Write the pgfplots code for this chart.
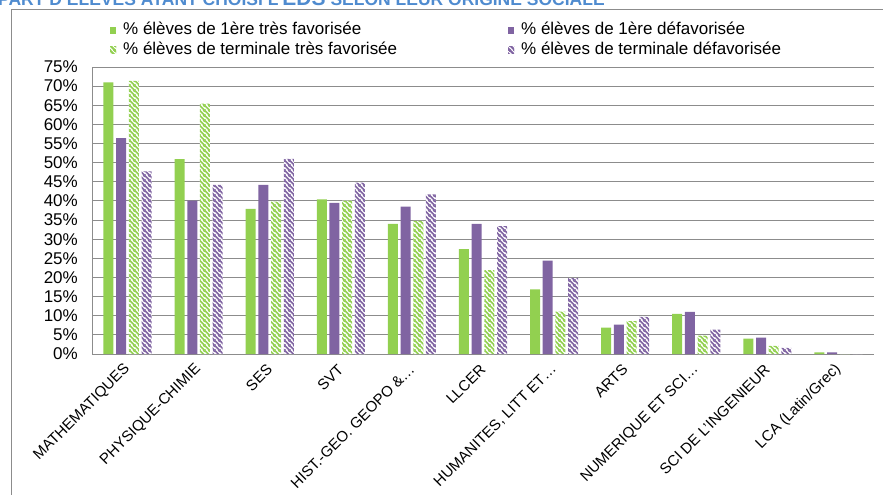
\documentclass[border=0pt]{standalone}
\usepackage{fontspec}
\setmainfont{Liberation Sans}
\usepackage{pgfplots}
\pgfplotsset{compat=1.18}
\usetikzlibrary{patterns.meta}

\definecolor{cgreen}{RGB}{146,208,80}
\definecolor{cpurple}{RGB}{128,100,162}
\definecolor{cgrid}{RGB}{140,140,140}
\definecolor{ctitle}{RGB}{79,139,207}

\tikzdeclarepattern{
  name=stripes,
  type=uncolored,
  bottom left={(0bp,0bp)},
  top right={(5bp,5bp)},
  tile size={(5bp,5bp)},
  code={
    \draw[line width=1.9bp] (-1bp,6bp) -- (6bp,-1bp);
    \draw[line width=1.9bp] (-1bp,1bp) -- (1bp,-1bp);
    \draw[line width=1.9bp] (4bp,6bp) -- (6bp,4bp);
  }
}

\begin{document}
\begin{tikzpicture}[font=\fontsize{17bp}{20bp}\selectfont]
\path[use as bounding box] (0,0) rectangle (883bp,495bp);
% titre coupé en haut
\begin{scope}
\clip (0,0) rectangle (883bp,495bp);
\node[anchor=base west, inner sep=0pt, text=ctitle, font=\fontsize{17.5bp}{20bp}\selectfont\bfseries]
  at (-2bp,489bp) {PART D'ÉLÈVES AYANT CHOISI L'{\fontsize{21bp}{23bp}\selectfont EDS} SELON LEUR ORIGINE SOCIALE};
\end{scope}
% cadre
\draw[cgrid, line width=0.9bp] (11bp,-5bp) -- (11bp,486bp) -- (890bp,486bp);

\begin{axis}[
  at={(92bp,141bp)}, anchor=south west,
  scale only axis, width=782bp, height=287bp,
  ybar=2.7bp, bar width=10bp,
  xmin=-0.5, xmax=10.5, ymin=0, ymax=75,
  ytick={0,5,...,75},
  yticklabel={\pgfmathprintnumber{\tick}\%},
  /pgf/number format/assume math mode=true,
  xtick={0,...,10},
  xticklabels={MATHEMATIQUES,PHYSIQUE-CHIMIE,SES,SVT,{HIST.-GEO. GEOPO \&…},LLCER,{HUMANITES, LITT ET…},ARTS,{NUMERIQUE ET SCI…},{SCI DE L'INGENIEUR},{LCA (Latin/Grec)}},
  xticklabel style={rotate=45, anchor=east, inner sep=0pt, font=\fontsize{15bp}{18bp}\selectfont},
  xticklabel shift=13bp,
  yticklabel style={inner sep=0pt},
  yticklabel shift=14bp,
  major tick length=0pt,
  axis x line*=bottom, axis y line*=left,
  axis line style={-, cgrid, line width=0.9bp},
  ymajorgrids, grid style={cgrid, line width=0.9bp},
  legend columns=2,
  legend style={at={(0.023,1.1568)}, anchor=north west, draw=none, fill=none,
    inner sep=0pt, row sep=4bp, column sep=0pt,
    nodes={inner sep=0pt, text height=12bp, text depth=4bp},
    /tikz/every odd column/.append style={column sep=7bp}},
  legend cell align=left,
]
\addplot[fill=cgreen, draw=none,
  legend image code/.code={\path[fill=cgreen] (0bp,-3.5bp) rectangle (6bp,3.5bp);}]
  coordinates {(0,71.0)(1,50.9)(2,37.9)(3,40.4)(4,34.0)(5,27.4)(6,16.9)(7,6.9)(8,10.5)(9,4.0)(10,0.4)};
\addlegendentry{\makebox[385bp][l]{\% élèves de 1ère très favorisée}}
\addplot[fill=cpurple, draw=none,
  legend image code/.code={\path[fill=cpurple] (0bp,-3.5bp) rectangle (6bp,3.5bp);}]
  coordinates {(0,56.4)(1,40.1)(2,44.2)(3,39.5)(4,38.5)(5,34.0)(6,24.4)(7,7.7)(8,11.0)(9,4.3)(10,0.4)};
\addlegendentry{\% élèves de 1ère défavorisée}
\addplot[fill=white, draw=none, postaction={pattern=stripes, pattern color=cgreen},
  legend image code/.code={\path[fill=white, postaction={pattern=stripes, pattern color=cgreen}] (0bp,-3.5bp) rectangle (6bp,3.5bp);}]
  coordinates {(0,71.4)(1,65.4)(2,39.8)(3,40.1)(4,34.8)(5,21.9)(6,11.1)(7,8.6)(8,4.8)(9,2.1)(10,0)};
\addlegendentry{\makebox[385bp][l]{\% élèves de terminale très favorisée}}
\addplot[fill=white, draw=none, postaction={pattern=stripes, pattern color=cpurple},
  legend image code/.code={\path[fill=white, postaction={pattern=stripes, pattern color=cpurple}] (0bp,-3.5bp) rectangle (6bp,3.5bp);}]
  coordinates {(0,47.7)(1,44.2)(2,51.0)(3,44.8)(4,41.7)(5,33.4)(6,19.8)(7,9.7)(8,6.4)(9,1.6)(10,0)};
\addlegendentry{\% élèves de terminale défavorisée}
\end{axis}
\end{tikzpicture}
\end{document}
